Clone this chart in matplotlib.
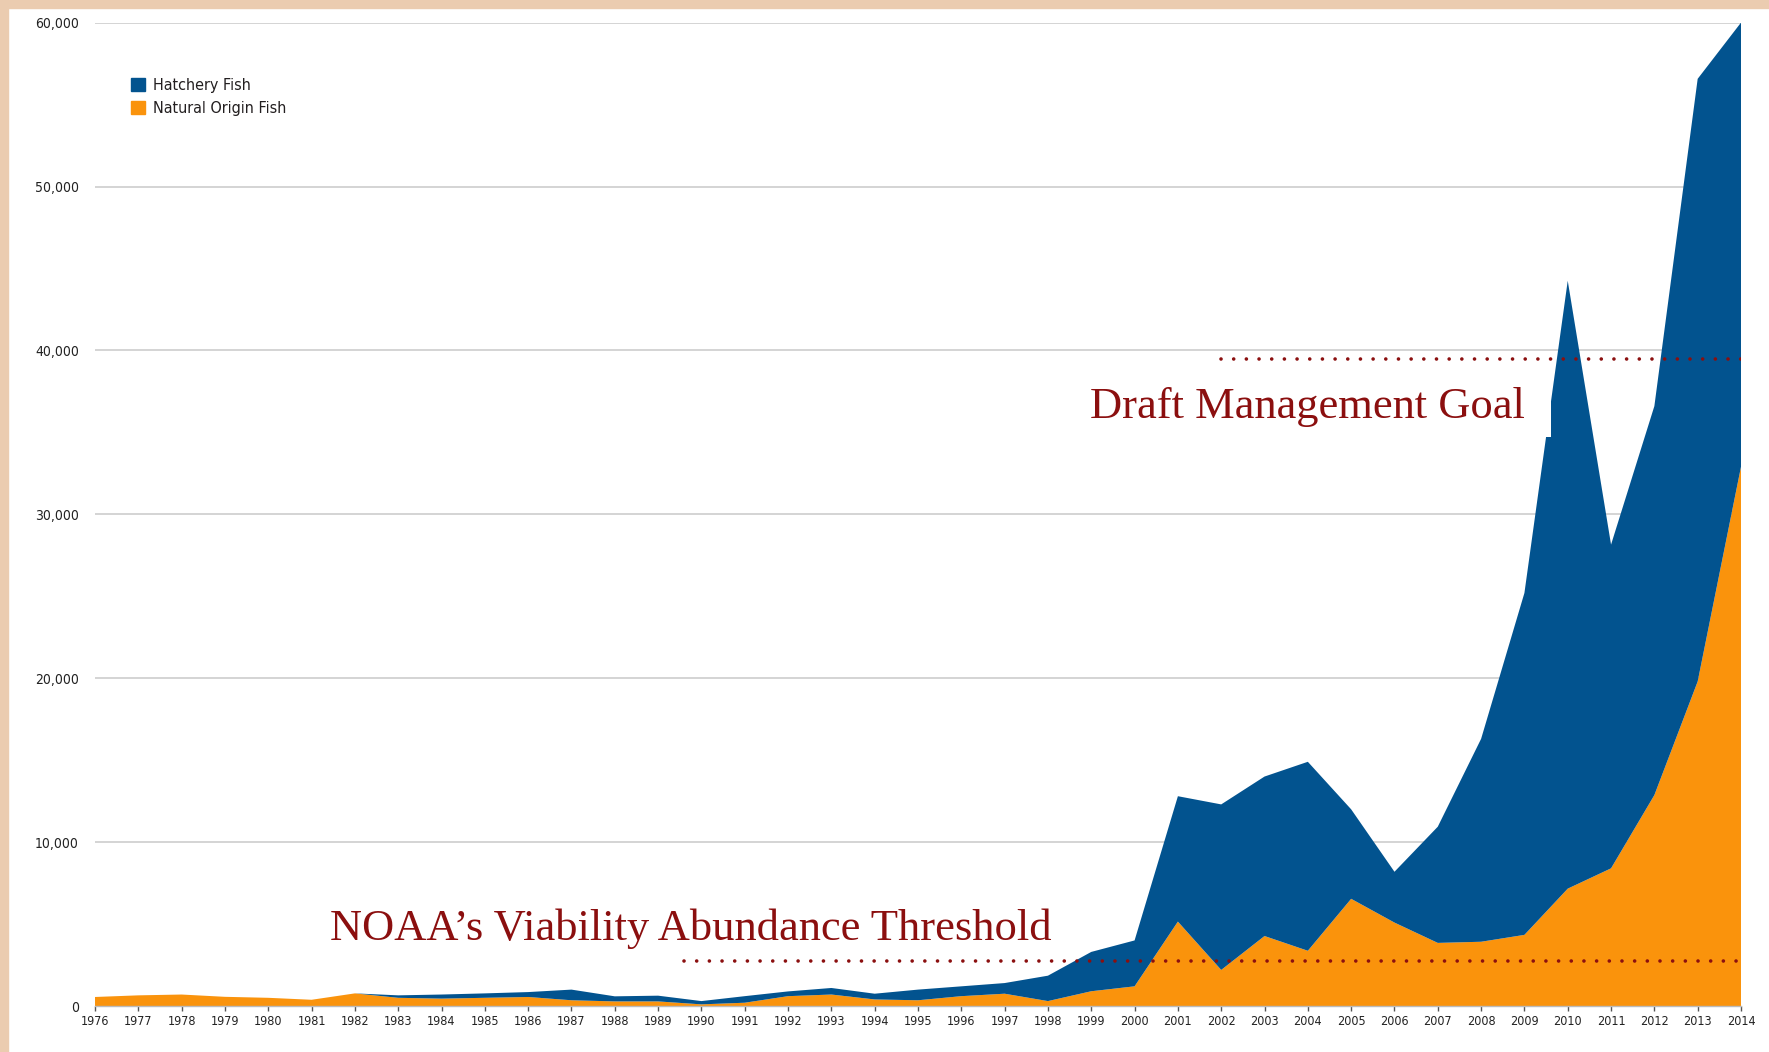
import matplotlib.pyplot as plt
from matplotlib.patches import Patch, Rectangle
from matplotlib import font_manager

# Данные: число рыб по годам
years = list(range(1976, 2015))
natural = [550, 650, 700, 560, 500, 380, 770, 500, 450, 500,
           550, 350, 280, 280, 100, 200, 600, 700, 400, 350,
           600, 750, 300, 900, 1200, 5150, 2200, 4270, 3370, 6540,
           5090, 3850, 3920, 4340, 7160, 8400, 12870, 19800, 32900]
hatchery = [0, 0, 0, 0, 0, 0, 0, 150, 250, 270,
            300, 650, 310, 350, 200, 400, 290, 400, 350, 650,
            600, 650, 1550, 2400, 2800, 7650, 10100, 9730, 11530, 5460,
            3100, 7090, 12380, 20860, 37090, 19750, 23730, 36770, 27100]

noaa_threshold = 2750
noaa_start = 1989.6
goal_level = 39500
goal_start = 2002.0

blue = '#02538F'
orange = '#FA930C'
red = '#8B0F0F'

# узкий шрифт, если найдётся
fonts = font_manager.fontManager.ttflist
names = {f.name for f in fonts}
stretch = 'normal'
if 'Liberation Sans Narrow' in names:
    sans = 'Liberation Sans Narrow'
elif any(f.name == 'DejaVu Sans' and f.stretch == 'condensed' for f in fonts):
    sans = 'DejaVu Sans'
    stretch = 'condensed'
else:
    sans = 'Liberation Sans'
plt.rcParams['font.family'] = [sans, 'DejaVu Sans']
plt.rcParams['font.stretch'] = stretch

fig = plt.figure(figsize=(17.69, 10.52), dpi=100)
W, H = 1769, 1052
ax = fig.add_axes([95 / W, 1 - 1006 / H, (1741 - 95) / W, (1006 - 22.6) / H])

# бежевая рамка сверху и слева
fig.patches.append(Rectangle((0, 1 - 7.5 / H), 1, 7.5 / H, transform=fig.transFigure,
                             color='#EBCCB0', zorder=0))
fig.patches.append(Rectangle((0, 0), 7.5 / W, 1, transform=fig.transFigure,
                             color='#EBCCB0', zorder=0))

ax.stackplot(years, natural, hatchery, colors=[orange, blue], linewidth=0)

# пороговые линии
ax.plot([noaa_start, 2014], [noaa_threshold, noaa_threshold], color=red, lw=2.6,
        linestyle=(0, (0.01, 3.5)), dash_capstyle='round', zorder=4)
ax.plot([goal_start, 2014], [goal_level, goal_level], color=red, lw=2.6,
        linestyle=(0, (0.01, 3.5)), dash_capstyle='round', zorder=4)

ax.text(1981.42, 4030, 'NOAA\u2019s Viability Abundance Threshold', color=red,
        fontsize=32, family='Liberation Serif', va='baseline', zorder=5)
# белая подложка под подписью цели
ax.add_patch(Rectangle((1085 / W, 1 - 437 / H), (1551 - 1085) / W, (437 - 380) / H,
                       transform=fig.transFigure, facecolor='white', edgecolor='none',
                       zorder=3))
ax.text(1998.97, 35900, 'Draft Management Goal', color=red,
        fontsize=32, family='Liberation Serif', va='baseline', zorder=5)

ax.set_xlim(1976, 2014)
ax.set_ylim(0, 60000)
ax.set_xticks(years)
ax.set_xticklabels([str(y) for y in years], fontsize=9, color='#222222')
ax.set_yticks(range(0, 60001, 10000))
ax.set_yticklabels([f'{v:,}' for v in range(0, 60001, 10000)], fontsize=10, color='#222222')
ax.tick_params(axis='y', length=0, pad=11.5)
ax.tick_params(axis='x', length=3.5, width=1, color='#555555', pad=3)
ax.yaxis.grid(True, color='#d4d4d4', lw=1.4)
ax.set_axisbelow(True)
for s in ['top', 'right', 'left']:
    ax.spines[s].set_visible(False)
ax.spines['bottom'].set_color('#bbbbbb')
ax.spines['bottom'].set_linewidth(1)

handles = [Patch(color=blue, label='Hatchery Fish'),
           Patch(color=orange, label='Natural Origin Fish')]
ax.legend(handles=handles, loc='upper left', bbox_to_anchor=(131 / W, 1 - 78 / H),
          bbox_transform=fig.transFigure, frameon=False, fontsize=11.5,
          handlelength=0.9, handleheight=0.9, handletextpad=0.5,
          labelspacing=0.5, borderpad=0, borderaxespad=0, labelcolor='#231f20')

plt.savefig('out.png', dpi=100)
